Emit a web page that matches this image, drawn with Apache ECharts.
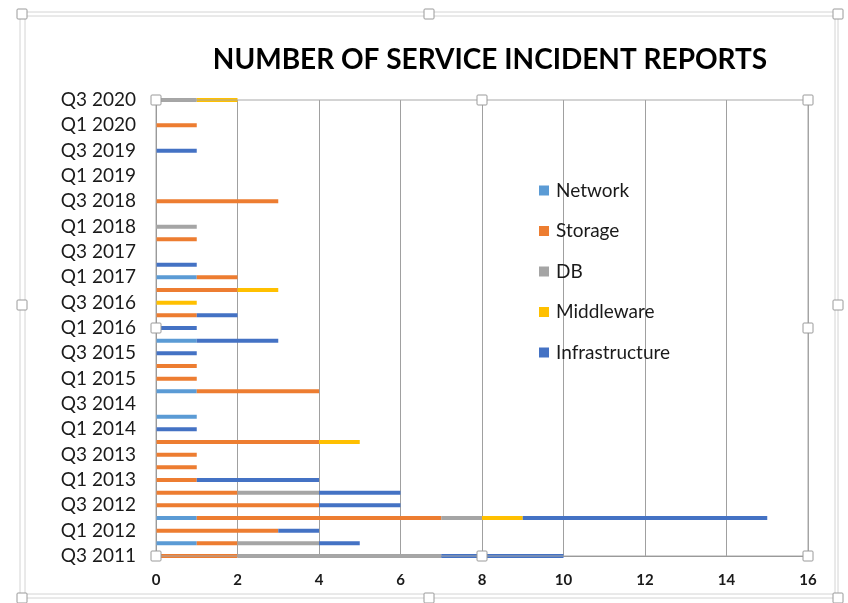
<!DOCTYPE html>
<html>
<head>
<meta charset="utf-8">
<script src="https://cdn.jsdelivr.net/npm/echarts@6/dist/echarts.min.js"></script>
<style>
  html, body { margin: 0; padding: 0; background: #fff; }
  #incidents { width: 848px; height: 603px; }
</style>
</head>
<body>
<div id="incidents"></div>
<script>
var quarters = [
  'Q3 2011', 'Q4 2011', 'Q1 2012', 'Q2 2012', 'Q3 2012', 'Q4 2012', 'Q1 2013', 'Q2 2013',
  'Q3 2013', 'Q4 2013', 'Q1 2014', 'Q2 2014', 'Q3 2014', 'Q4 2014', 'Q1 2015', 'Q2 2015',
  'Q3 2015', 'Q4 2015', 'Q1 2016', 'Q2 2016', 'Q3 2016', 'Q4 2016', 'Q1 2017', 'Q2 2017',
  'Q3 2017', 'Q4 2017', 'Q1 2018', 'Q2 2018', 'Q3 2018', 'Q4 2018', 'Q1 2019', 'Q2 2019',
  'Q3 2019', 'Q4 2019', 'Q1 2020', 'Q2 2020', 'Q3 2020'
];

var network        = [0, 1, 0, 1, 0, 0, 0, 0, 0, 0, 0, 1, 0, 1, 0, 0, 0, 1, 0, 0, 0, 0, 1, 0, 0, 0, 0, 0, 0, 0, 0, 0, 0, 0, 0, 0, 0];
var storage        = [2, 1, 3, 6, 4, 2, 1, 1, 1, 4, 0, 0, 0, 3, 1, 1, 0, 0, 0, 1, 0, 2, 1, 0, 0, 1, 0, 0, 3, 0, 0, 0, 0, 0, 1, 0, 0];
var db             = [5, 2, 0, 1, 0, 2, 0, 0, 0, 0, 0, 0, 0, 0, 0, 0, 0, 0, 0, 0, 0, 0, 0, 0, 0, 0, 1, 0, 0, 0, 0, 0, 0, 0, 0, 0, 1];
var middleware     = [0, 0, 0, 1, 0, 0, 0, 0, 0, 1, 0, 0, 0, 0, 0, 0, 0, 0, 0, 0, 1, 1, 0, 0, 0, 0, 0, 0, 0, 0, 0, 0, 0, 0, 0, 0, 1];
var infrastructure = [3, 1, 1, 6, 2, 2, 3, 0, 0, 0, 1, 0, 0, 0, 0, 0, 1, 2, 1, 1, 0, 0, 0, 1, 0, 0, 0, 0, 0, 0, 0, 0, 1, 0, 0, 0, 0];

var seriesNames = ['Network', 'Storage', 'DB', 'Middleware', 'Infrastructure'];
var seriesColors = ['#5b9bd5', '#ed7d31', '#a5a5a5', '#ffc000', '#4472c4'];
var seriesValues = [network, storage, db, middleware, infrastructure];

var incidents = echarts.init(document.getElementById('incidents'));

// plot area corners (for the selection handles drawn around it)
var plotL = 156, plotR = 808, plotT = 100, plotB = 556;

function handle(x, y) {
  return {
    type: 'rect', z: 100,
    shape: { x: x - 5, y: y - 5, width: 10, height: 10, r: 1 },
    style: { fill: '#fff', stroke: '#9a9a9a', lineWidth: 1 }
  };
}

var frame = [
  { type: 'rect', shape: { x: 20, y: 12, width: 818, height: 586 }, style: { fill: 'none', stroke: '#d4d4d4', lineWidth: 1 } },
  { type: 'rect', shape: { x: 25, y: 16, width: 810, height: 578 }, style: { fill: 'none', stroke: '#d4d4d4', lineWidth: 1 } },
  handle(22, 14), handle(429, 14), handle(838, 14),
  handle(22, 598), handle(429, 598), handle(838, 598),
  handle(22, 305), handle(838, 305),
  { type: 'rect', z: 99, shape: { x: plotL, y: plotT, width: plotR - plotL, height: plotB - plotT }, style: { fill: 'none', stroke: '#a8a8a8', lineWidth: 1 } },
  handle(plotL, plotT), handle(482, plotT), handle(plotR, plotT),
  handle(plotL, 328), handle(plotR, 328),
  handle(plotL, plotB), handle(482, plotB), handle(plotR, plotB)
];

var incidentsOptions = {
  animation: false,
  textStyle: { fontFamily: 'Lato' },
  title: {
    text: 'NUMBER OF SERVICE INCIDENT REPORTS',
    left: 485,
    textAlign: 'center',
    top: 41,
    textStyle: { fontFamily: 'Lato', fontWeight: 'bold', fontSize: 28, color: '#000' }
  },
  legend: {
    orient: 'vertical',
    left: 534,
    top: 176,
    itemWidth: 10,
    itemHeight: 10,
    itemGap: 21.5,
    icon: 'rect',
    data: seriesNames,
    textStyle: { fontFamily: 'Lato', fontSize: 19, color: '#1a1a1a', padding: [0, 0, 0, 2] }
  },
  grid: { left: plotL, right: 848 - plotR, top: plotT, bottom: 603 - plotB, containLabel: false },
  xAxis: {
    type: 'value',
    min: 0,
    max: 16,
    interval: 2,
    axisLine: { show: true, lineStyle: { color: '#8c8c8c' } },
    axisTick: { show: false },
    axisLabel: { fontFamily: 'Lato', fontSize: 15, fontWeight: 'bold', color: '#1a1a1a', margin: 17 },
    splitLine: { show: true, lineStyle: { color: '#a0a0a0', width: 1 } }
  },
  yAxis: {
    type: 'category',
    data: quarters,
    boundaryGap: false,
    axisLine: { show: true, lineStyle: { color: '#8c8c8c' } },
    axisTick: { show: false },
    axisLabel: { interval: 1, fontFamily: 'Lato', fontSize: 19, color: '#1a1a1a', margin: 20 },
    splitLine: { show: false }
  },
  series: seriesNames.map(function (name, i) {
    return {
      name: name,
      type: 'bar',
      stack: 'total',
      barWidth: 4,
      itemStyle: { color: seriesColors[i] },
      data: seriesValues[i]
    };
  }),
  graphic: frame
};

incidents.setOption(incidentsOptions);
</script>
</body>
</html>
